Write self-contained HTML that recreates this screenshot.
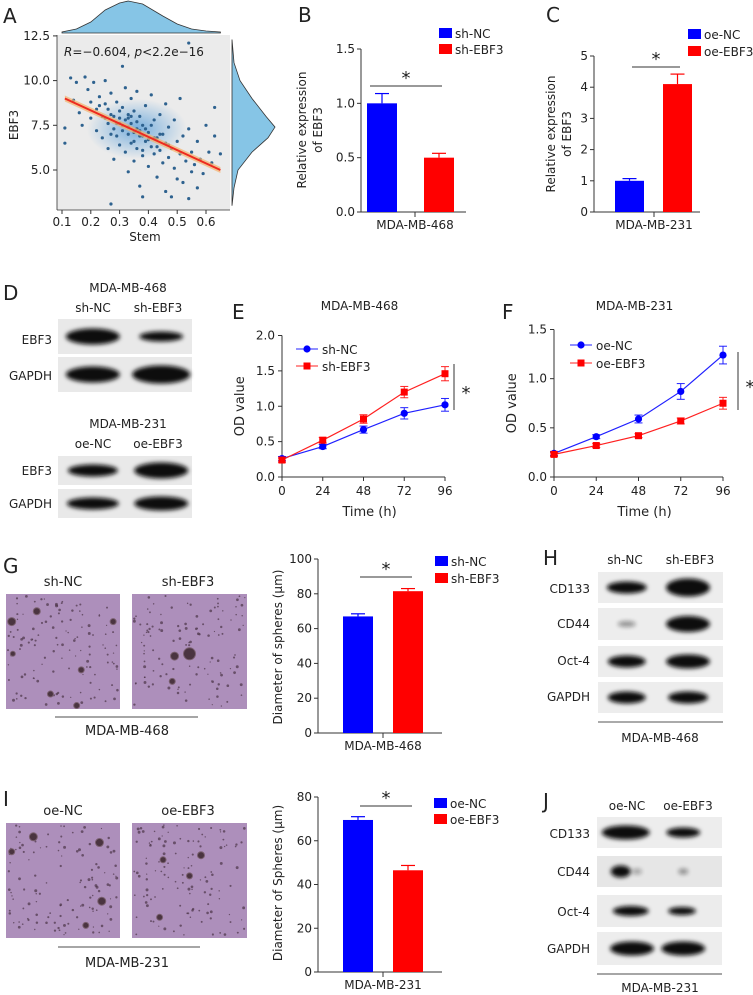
<!DOCTYPE html>
<html><head><meta charset="utf-8"><style>
body{margin:0;background:#fff}
svg{display:block;font-family:"DejaVu Sans","Liberation Sans",sans-serif}
</style></head><body>
<svg id="fig" width="753" height="995" viewBox="0 0 753 995">
<defs>
<filter id="blur" x="-30%" y="-60%" width="160%" height="220%"><feGaussianBlur stdDeviation="2.2"/></filter>
<radialGradient id="dens" cx="50%" cy="50%" r="50%"><stop offset="0" stop-color="#6aa8dc" stop-opacity="0.9"/><stop offset="1" stop-color="#6aa8dc" stop-opacity="0"/></radialGradient>
</defs>
<g id="root"></g>
</svg>
<script>
// ---------- data ----------
const scatterX=[0.11,0.11,0.13,0.14,0.15,0.16,0.17,0.18,0.19,0.2,0.2,0.21,0.22,0.22,0.23,0.24,0.24,0.25,0.25,0.26,0.26,0.27,0.27,0.27,0.28,0.28,0.29,0.29,0.3,0.3,0.31,0.31,0.31,0.32,0.32,0.33,0.33,0.33,0.34,0.34,0.34,0.35,0.35,0.36,0.36,0.36,0.37,0.37,0.37,0.38,0.38,0.38,0.39,0.39,0.4,0.4,0.41,0.41,0.42,0.42,0.43,0.43,0.44,0.44,0.45,0.45,0.46,0.46,0.46,0.47,0.47,0.48,0.48,0.49,0.49,0.5,0.5,0.51,0.51,0.52,0.52,0.53,0.54,0.54,0.54,0.55,0.55,0.56,0.57,0.57,0.58,0.59,0.6,0.61,0.62,0.63,0.63,0.65,0.3,0.32,0.35,0.33,0.36,0.38,0.4,0.42,0.28,0.25,0.3,0.34,0.39,0.44,0.47,0.41,0.37,0.29,0.23,0.27,0.31,0.35,0.26,0.43,0.38,0.33];
const scatterY=[7.35,6.5,10.15,8.9,9.9,8.2,7.5,10.2,9.5,8.8,7.9,9.9,8.4,7.2,9.1,8.0,6.8,10.0,8.7,7.6,6.2,9.3,8.1,3.1,7.3,5.6,8.8,6.9,7.9,6.4,10.8,8.5,7.2,9.6,6.0,8.1,7.0,4.9,9.0,7.6,6.5,8.3,5.5,9.4,7.3,6.2,8.0,6.9,4.1,7.5,5.8,3.5,8.6,6.6,7.1,5.2,9.2,6.3,7.8,5.9,6.8,4.6,8.1,6.1,7.0,5.4,8.7,6.5,3.8,7.4,5.7,6.2,3.5,7.8,5.1,6.6,4.5,9.0,5.9,6.9,4.3,5.5,7.3,12.1,3.4,6.0,4.9,5.3,6.6,4.0,5.6,4.8,7.5,6.0,5.4,8.5,6.9,5.9,7.6,7.8,7.1,7.4,7.7,6.9,6.7,6.8,8.0,7.9,8.3,8.0,7.3,7.0,6.4,7.5,7.2,7.6,8.6,7.0,7.5,6.6,8.4,6.3,6.1,7.9];
const regX=[0.11,0.65], regY=[9.0,5.0];
const scatXTicks=[0.1,0.2,0.3,0.4,0.5,0.6], scatYTicks=[5.0,7.5,10.0,12.5];

const bCats=["sh-NC","sh-EBF3"], bVals=[1.0,0.5], bErr=[0.09,0.04], bTicks=[0,0.5,1.0,1.5];
const cCats=["oe-NC","oe-EBF3"], cVals=[1.0,4.1], cErr=[0.07,0.32], cTicks=[0,1,2,3,4,5];

const times=[0,24,48,72,96];
const eNC=[0.26,0.43,0.67,0.90,1.02], eNCerr=[0.03,0.03,0.05,0.08,0.09];
const eKD=[0.24,0.52,0.82,1.20,1.46], eKDerr=[0.03,0.04,0.06,0.08,0.10];
const eTicks=[0,0.5,1.0,1.5,2.0];
const fNC=[0.24,0.41,0.59,0.87,1.24], fNCerr=[0.02,0.02,0.04,0.08,0.09];
const fOE=[0.23,0.32,0.42,0.57,0.75], fOEerr=[0.02,0.02,0.02,0.03,0.06];
const fTicks=[0,0.5,1.0,1.5];

const gVals=[67,81.5], gErr=[1.5,1.5], gTicks=[0,20,40,60,80,100];
const iVals=[69.5,46.5], iErr=[1.5,2.2], iTicks=[0,20,40,60,80];

const NS="http://www.w3.org/2000/svg";
const root=document.getElementById('root');
function el(tag,attrs,parent,text){const e=document.createElementNS(NS,tag);for(const k in attrs)e.setAttribute(k,attrs[k]);if(text!==undefined)e.textContent=text;(parent||root).appendChild(e);return e;}
function txt(x,y,s,size,anchor,parent,name){const t=el('text',{x:x,y:y,'font-size':size||12,'text-anchor':anchor||'start',fill:'#222'},parent,s);

return t;}
function fmt(v,d){return v.toFixed(d);}

// panel letters
[["A",3,23],["B",298,22],["C",546,22],["D",3,300],["E",232,319],["F",502,319],["G",3,573],["H",543,565],["I",3,806],["J",543,808]].forEach(p=>{txt(p[1],p[2],p[0],20,'start',null,'panel-letter-'+p[0].toLowerCase());});

// ---------- Panel A ----------
const gA=el('g',{});


const ax=v=>62+(v-0.1)/0.1*28.8, ay=v=>170-(v-5)/2.5*44.7;
el('rect',{x:57,y:35,width:173,height:175,fill:'#ebebeb'},gA);
(function(){const pts=[[0.1,32],[0.15,29],[0.2,22],[0.25,10],[0.3,3],[0.33,1],[0.38,4],[0.45,16],[0.5,24],[0.55,29],[0.6,31],[0.65,32]];
const d='M'+ax(0.1)+',33 '+pts.map(p=>'L'+ax(p[0])+','+p[1]).join(' ')+' L'+ax(0.65)+',33 Z';
const p=el('path',{d:d,fill:'#86c5e6',stroke:'#333','stroke-width':0.8},gA);

})();
(function(){const pts=[[12.3,232],[11,234],[10,240],[9,252],[8,266],[7.4,275],[6.8,268],[6,252],[5,238],[4,234],[3,232]];
const d='M232,'+ay(12.3)+' '+pts.map(p=>'L'+p[1]+','+ay(p[0])).join(' ')+' L232,'+ay(3)+' Z';
const p=el('path',{d:d,fill:'#86c5e6',stroke:'#333','stroke-width':0.8},gA);

})();
el('ellipse',{cx:ax(0.36),cy:ay(7.3),rx:50,ry:30,fill:'url(#dens)'},gA);
scatterX.forEach((x,i)=>{const c=el('circle',{cx:ax(x),cy:ay(scatterY[i]),r:1.6,fill:'#2e628f'},gA);

});
el('polygon',{points:`${ax(regX[0])},${ay(regY[0])-3} ${ax(regX[1])},${ay(regY[1])-3} ${ax(regX[1])},${ay(regY[1])+3} ${ax(regX[0])},${ay(regY[0])+3}`,fill:'#f5b26b',opacity:0.7},gA);
const rl=el('line',{x1:ax(regX[0]),y1:ay(regY[0]),x2:ax(regX[1]),y2:ay(regY[1]),stroke:'#ee2a1f','stroke-width':2},gA);


el('line',{x1:57,y1:210,x2:230,y2:210,stroke:'#333','stroke-width':0.8},gA);
el('line',{x1:57,y1:35,x2:57,y2:210,stroke:'#333','stroke-width':0.8},gA);
scatXTicks.forEach(v=>{el('line',{x1:ax(v),y1:210,x2:ax(v),y2:214,stroke:'#333'},gA);txt(ax(v),226,fmt(v,1),12,'middle',gA,'x-tick');});
scatYTicks.forEach(v=>{el('line',{x1:53,y1:ay(v),x2:57,y2:ay(v),stroke:'#333'},gA);txt(50,ay(v)+4,fmt(v,1),12,'end',gA,'y-tick');});
txt(145,241,'Stem',12,'middle',gA,'x-axis-title');
const at=txt(0,0,'EBF3',12,'middle',gA,'y-axis-title');at.setAttribute('transform','translate(18,125) rotate(-90)');
const st=el('text',{x:64,y:56,'font-size':12,fill:'#222'},gA);


st.innerHTML='<tspan font-style="italic">R</tspan>=−0.604, <tspan font-style="italic">p</tspan>&lt;2.2e−16';

// ---------- bar chart helper ----------
function barChart(o){
  const g=el('g',{});
  
  
  const sy=v=>o.y0-(v/o.max)*(o.y0-o.yTop);
  el('line',{x1:o.ax,y1:o.y0,x2:o.ax,y2:sy(o.max),stroke:'#333'},g);
  el('line',{x1:o.ax,y1:o.y0,x2:o.axEnd,y2:o.y0,stroke:'#333'},g);
  el('line',{x1:o.tickX,y1:o.y0,x2:o.tickX,y2:o.y0+5,stroke:'#333'},g);
  o.ticks.forEach(v=>{el('line',{x1:o.ax-4,y1:sy(v),x2:o.ax,y2:sy(v),stroke:'#333'},g);txt(o.ax-6,sy(v)+4,fmt(v,o.dec),12,'end',g,'y-tick');});
  const cols=['#0000ff','#ff0000'];
  o.vals.forEach((v,i)=>{
    const cx=o.bx[i];
    el('line',{x1:cx+o.bw/2,y1:sy(v),x2:cx+o.bw/2,y2:sy(v+o.err[i]),stroke:cols[i],'stroke-width':1.2},g);
    el('line',{x1:cx+o.bw/2-7,y1:sy(v+o.err[i]),x2:cx+o.bw/2+7,y2:sy(v+o.err[i]),stroke:cols[i],'stroke-width':1.2},g);
    const r=el('rect',{x:cx,y:sy(v),width:o.bw,height:o.y0-sy(v),fill:cols[i]},g);
    
    
  });
  txt(o.tickX,o.y0+17,o.xlabel,12,'middle',g,'x-axis-label');
  el('line',{x1:o.sig[0],y1:o.sig[2],x2:o.sig[1],y2:o.sig[2],stroke:'#333'},g);
  txt((o.sig[0]+o.sig[1])/2,o.sig[2]-2,'*',18,'middle',g,'significance-star');
  o.cats.forEach((c,i)=>{
    const r=el('rect',{x:o.leg[0],y:o.leg[1]+i*o.leg[2],width:13,height:10,fill:cols[i]},g);
    
    
    txt(o.leg[0]+16,o.leg[1]+i*o.leg[2]+10,c,12,'start',g,'legend-entry');
  });
  o.title.forEach((t,i)=>{const tt=txt(0,0,t,12,'middle',g,'y-axis-title');tt.setAttribute('transform',`translate(${o.titleX[i]},${o.titleY}) rotate(-90)`);});
}
barChart({name:'bar-chart-b',cats:bCats,vals:bVals,err:bErr,ticks:bTicks,max:1.5,dec:1,ax:361,axEnd:466,y0:212,yTop:49,bx:[367,424],bw:30,tickX:415,xlabel:'MDA-MB-468',sig:[370,442,86],leg:[439,28,16],title:['Relative expression','of EBF3'],titleX:[306,322],titleY:130});
barChart({name:'bar-chart-c',cats:cCats,vals:cVals,err:cErr,ticks:cTicks,max:5,dec:0,ax:594,axEnd:700,y0:212,yTop:56,bx:[615,663],bw:29,tickX:654,xlabel:'MDA-MB-231',sig:[632,680,67],leg:[688,29,17],title:['Relative expression','of EBF3'],titleX:[555,571],titleY:134});
barChart({name:'bar-chart-g',cats:bCats,vals:gVals,err:gErr,ticks:gTicks,max:100,dec:0,ax:318,axEnd:442,y0:733,yTop:559,bx:[343,393],bw:30,tickX:383,xlabel:'MDA-MB-468',sig:[360,412,577],leg:[435,556,17],title:['Diameter of spheres (μm)'],titleX:[282],titleY:647});
barChart({name:'bar-chart-i',cats:cCats,vals:iVals,err:iErr,ticks:iTicks,max:80,dec:0,ax:318,axEnd:442,y0:972,yTop:797,bx:[343,393],bw:30,tickX:383,xlabel:'MDA-MB-231',sig:[360,412,806],leg:[434,798,16],title:['Diameter of Spheres (μm)'],titleX:[282],titleY:883});

// ---------- line chart helper ----------
function lineChart(o){
  const g=el('g',{});
  
  
  const sx=t=>o.ax+t/96*o.w, sy=v=>o.y0-v/o.max*(o.y0-o.yTop);
  el('line',{x1:o.ax,y1:o.y0,x2:o.ax,y2:o.yTop,stroke:'#333'},g);
  el('line',{x1:o.ax,y1:o.y0,x2:sx(96),y2:o.y0,stroke:'#333'},g);
  o.ticks.forEach(v=>{el('line',{x1:o.ax-4,y1:sy(v),x2:o.ax,y2:sy(v),stroke:'#333'},g);txt(o.ax-7,sy(v)+4,fmt(v,1),12,'end',g,'y-tick');});
  times.forEach(t=>{el('line',{x1:sx(t),y1:o.y0,x2:sx(t),y2:o.y0+4,stroke:'#333'},g);txt(sx(t),o.y0+18,String(t),12,'middle',g,'x-tick');});
  const cols=['#2020ff','#ff2020'];
  o.series.forEach((s,si)=>{
    const pl=el('polyline',{points:times.map((t,i)=>sx(t)+','+sy(s[i])).join(' '),fill:'none',stroke:cols[si],'stroke-width':1.2},g);
    
    
    times.forEach((t,i)=>{
      const e=o.errs[si][i];
      el('line',{x1:sx(t),y1:sy(s[i]-e),x2:sx(t),y2:sy(s[i]+e),stroke:cols[si]},g);
      el('line',{x1:sx(t)-4,y1:sy(s[i]+e),x2:sx(t)+4,y2:sy(s[i]+e),stroke:cols[si]},g);
      el('line',{x1:sx(t)-4,y1:sy(s[i]-e),x2:sx(t)+4,y2:sy(s[i]-e),stroke:cols[si]},g);
      const m=si==0?el('circle',{cx:sx(t),cy:sy(s[i]),r:3.6,fill:'#0000ff'},g):el('rect',{x:sx(t)-3.5,y:sy(s[i])-3.5,width:7,height:7,fill:'#ff0000'},g);
      
      
    });
    const ly=o.leg[1]+si*o.leg[2];
    el('line',{x1:o.leg[0],y1:ly,x2:o.leg[0]+22,y2:ly,stroke:cols[si]},g);
    if(si==0)el('circle',{cx:o.leg[0]+11,cy:ly,r:3.6,fill:'#0000ff'},g);else el('rect',{x:o.leg[0]+7.5,y:ly-3.5,width:7,height:7,fill:'#ff0000'},g);
    txt(o.leg[0]+26,ly+5,o.labels[si],12,'start',g,'legend-entry');
  });
  el('line',{x1:o.sig[0],y1:o.sig[1],x2:o.sig[0],y2:o.sig[2],stroke:'#333'},g);
  txt(o.sig[0]+12,(o.sig[1]+o.sig[2])/2+12,'*',18,'middle',g,'significance-star');
  txt(o.ax+o.w/2-4,310,o.title,12,'middle',g,'chart-title');
  txt(o.ax+o.w/2+6,516,o.xt,13,'middle',g,'x-axis-title');
  const yt=txt(0,0,'OD value',13,'middle',g,'y-axis-title');yt.setAttribute('transform',`translate(${o.ax-38},${(o.y0+o.yTop)/2}) rotate(-90)`);
}
lineChart({name:'line-chart-e',series:[eNC,eKD],errs:[eNCerr,eKDerr],labels:['sh-NC','sh-EBF3'],ticks:eTicks,max:2,ax:282,w:163,y0:477,yTop:335.5,leg:[296,349,17],sig:[454,364,410],title:'MDA-MB-468',xt:'Time (h)'});
lineChart({name:'line-chart-f',series:[fNC,fOE],errs:[fNCerr,fOEerr],labels:['oe-NC','oe-EBF3'],ticks:fTicks,max:1.5,ax:554,w:169,y0:477,yTop:329.5,leg:[570,345,18],sig:[738,352,410],title:'MDA-MB-231',xt:'Time  (h)'});

// ---------- western blots ----------
function blot(name,x,y,w,h,bands,bg){
  const g=el('g',{});
  
  
  el('rect',{x:x,y:y,width:w,height:h,fill:bg||'#e9e9e9'},g);
  bands.forEach(b=>{el('ellipse',{cx:x+b[0]*w,cy:y+h/2,rx:b[1],ry:b[2],fill:'#0c0c0c',opacity:b[3]||1,filter:'url(#blur)'},g);});
}
txt(128,292,'MDA-MB-468',12,'middle',null,'blot-title');
txt(93,312,'sh-NC',12,'middle',null,'lane-label');txt(158,312,'sh-EBF3',12,'middle',null,'lane-label');
blot('blot-ebf3-468',58,319,134,35,[[0.26,27,8],[0.77,22,5]]);
blot('blot-gapdh-468',58,357,134,35,[[0.26,27,8],[0.77,29,9]]);
txt(52,344,'EBF3',12,'end',null,'blot-row-label');txt(52,380,'GAPDH',12,'end',null,'blot-row-label');
txt(128,428,'MDA-MB-231',12,'middle',null,'blot-title');
txt(93,448,'oe-NC',12,'middle',null,'lane-label');txt(158,448,'oe-EBF3',12,'middle',null,'lane-label');
blot('blot-ebf3-231',58,456,134,29,[[0.26,25,6],[0.77,27,8]]);
blot('blot-gapdh-231',58,489,134,29,[[0.26,26,6],[0.77,27,7]]);
txt(52,475,'EBF3',12,'end',null,'blot-row-label');txt(52,508,'GAPDH',12,'end',null,'blot-row-label');

// H
txt(625,564,'sh-NC',12,'middle',null,'lane-label');txt(690,564,'sh-EBF3',12,'middle',null,'lane-label');
blot('blot-cd133-h',598,572,125,31,[[0.23,20,6],[0.72,22,9]],'#ededed');
blot('blot-cd44-h',598,608,125,32,[[0.23,9,3,0.4],[0.72,22,8]],'#ededed');
blot('blot-oct4-h',598,646,125,31,[[0.23,19,6],[0.72,22,7]],'#ededed');
blot('blot-gapdh-h',598,682,125,31,[[0.23,19,6],[0.72,20,6]],'#ededed');
[['CD133',593],['CD44',628],['Oct-4',665],['GAPDH',701]].forEach(r=>txt(590,r[1],r[0],12,'end',null,'blot-row-label'));
el('line',{x1:598,y1:722,x2:723,y2:722,stroke:'#555'});
txt(660,742,'MDA-MB-468',12,'middle',null,'blot-caption');
// J
txt(627,810,'oe-NC',12,'middle',null,'lane-label');txt(688,810,'oe-EBF3',12,'middle',null,'lane-label');
blot('blot-cd133-j',597,817,125,31,[[0.23,24,7],[0.69,17,5]],'#ededed');
blot('blot-cd44-j',597,856,125,31,[[0.19,10,6],[0.32,5,3,0.3],[0.69,5,3,0.4]],'#e6e6e6');
blot('blot-oct4-j',597,895,125,32,[[0.27,18,5],[0.68,14,4]],'#ececec');
blot('blot-gapdh-j',597,932,125,33,[[0.28,22,7],[0.69,22,7]],'#ededed');
[['CD133',838],['CD44',876],['Oct-4',916],['GAPDH',953]].forEach(r=>txt(590,r[1],r[0],12,'end',null,'blot-row-label'));
el('line',{x1:597,y1:974,x2:722,y2:974,stroke:'#888','stroke-width':1.5});
txt(660,992,'MDA-MB-231',12,'middle',null,'blot-caption');

// ---------- microscopy images ----------
let seed=7;function rnd(){seed=(seed*9301+49297)%233280;return seed/233280;}
function micro(name,x,y,w,h,big){
  const g=el('g',{});
  
  
  el('rect',{x:x,y:y,width:w,height:h,fill:'#ad8fbb'},g);
  for(let i=0;i<120;i++){el('circle',{cx:x+2+rnd()*(w-4),cy:y+2+rnd()*(h-4),r:0.6+rnd()*0.9,fill:'#4a3346',opacity:0.7},g);}
  big.forEach(b=>el('circle',{cx:x+b[0]*w,cy:y+b[1]*h,r:b[2],fill:'#4a3440',stroke:'#7a6070','stroke-width':1},g));
}
txt(63,586,'sh-NC',13,'middle',null,'image-label');txt(188,586,'sh-EBF3',13,'middle',null,'image-label');
micro('sphere-image-sh-nc',6,594,114,115,[[0.27,0.15,3.5],[0.05,0.24,4],[0.94,0.24,3],[0.06,0.52,2.5],[0.66,0.66,3],[0.39,0.87,3],[0.62,0.97,3]]);
micro('sphere-image-sh-ebf3',132,594,115,115,[[0.5,0.52,6],[0.37,0.54,4],[0.35,0.76,3]]);
el('line',{x1:55,y1:717,x2:198,y2:717,stroke:'#888','stroke-width':1.5});
txt(127,735,'MDA-MB-468',13,'middle',null,'image-caption');
txt(63,815,'oe-NC',13,'middle',null,'image-label');txt(188,815,'oe-EBF3',13,'middle',null,'image-label');
micro('sphere-image-oe-nc',6,823,114,115,[[0.24,0.12,4],[0.05,0.25,3],[0.82,0.17,4],[0.84,0.68,4],[0.7,0.89,3]]);
micro('sphere-image-oe-ebf3',132,823,115,115,[[0.6,0.28,3.5],[0.27,0.32,3],[0.5,0.46,3],[0.24,0.82,3]]);
el('line',{x1:58,y1:947,x2:200,y2:947,stroke:'#888','stroke-width':1.5});
txt(127,967,'MDA-MB-231',13,'middle',null,'image-caption');
</script>
</body></html>
